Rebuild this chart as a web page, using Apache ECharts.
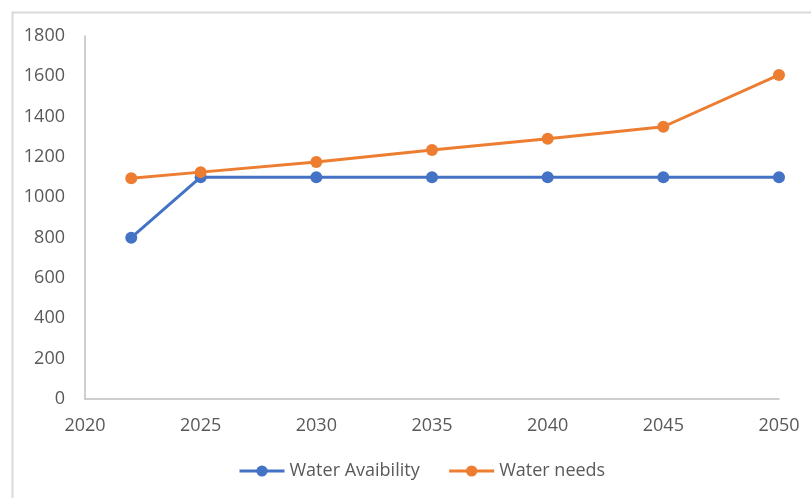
<!DOCTYPE html>
<html>
<head>
<meta charset="utf-8">
<script src="https://cdn.jsdelivr.net/npm/echarts@6/dist/echarts.min.js"></script>
<style>
  html, body { margin: 0; padding: 0; background: #ffffff; }
  #chart { width: 811px; height: 498px; }
</style>
</head>
<body>
<div id="chart"></div>
<script>
// Years at which each series is sampled
const years = [2022, 2025, 2030, 2035, 2040, 2045, 2050];

// Series values
const waterAvailability = [800, 1100, 1100, 1100, 1100, 1100, 1100];
const waterNeeds = [1095, 1125, 1175, 1235, 1290, 1350, 1607];

// Series names shown in the legend
const seriesNames = ['Water Avaibility', 'Water needs'];

const pairs = (xs, ys) => xs.map((x, i) => [x, ys[i]]);

const labelFont = {
  color: '#595959',
  fontFamily: 'Open Sans, Noto Sans, sans-serif',
  fontSize: 18
};

// plain integers, no thousands separator
const plain = v => String(v);

const chart = echarts.init(document.getElementById('chart'), null, { renderer: 'canvas' });

chart.setOption({
  animation: false,
  backgroundColor: '#ffffff',
  graphic: [{
    type: 'rect',
    left: 10,
    top: 10,
    shape: { width: 900, height: 600 },
    style: { fill: 'none', stroke: '#d9d9d9', lineWidth: 2 },
    silent: true,
    z: -10
  }],
  grid: { left: 85, right: 32, top: 36, bottom: 99, containLabel: false },
  legend: {
    bottom: 13,
    left: 233,
    itemWidth: 45,
    itemHeight: 14,
    itemGap: 28,
    lineStyle: { width: 3 },
    textStyle: Object.assign({}, labelFont),
    data: seriesNames
  },
  xAxis: {
    type: 'value',
    min: 2020,
    max: 2050,
    interval: 5,
    axisLine: { show: true, lineStyle: { color: '#bfbfbf', width: 1.5 } },
    axisTick: { show: false },
    splitLine: { show: false },
    axisLabel: Object.assign({}, labelFont, { margin: 18, formatter: plain })
  },
  yAxis: {
    type: 'value',
    min: 0,
    max: 1800,
    interval: 200,
    axisLine: { show: true, lineStyle: { color: '#bfbfbf', width: 1.5 } },
    axisTick: { show: false },
    splitLine: { show: false },
    axisLabel: Object.assign({}, labelFont, { margin: 20, formatter: plain })
  },
  series: [
    {
      name: seriesNames[0],
      type: 'line',
      data: pairs(years, waterAvailability),
      symbol: 'circle',
      symbolSize: 12,
      lineStyle: { color: '#4472c4', width: 3 },
      itemStyle: { color: '#4472c4' }
    },
    {
      name: seriesNames[1],
      type: 'line',
      data: pairs(years, waterNeeds),
      symbol: 'circle',
      symbolSize: 12,
      lineStyle: { color: '#ed7d31', width: 3 },
      itemStyle: { color: '#ed7d31' }
    }
  ]
});
</script>
</body>
</html>
